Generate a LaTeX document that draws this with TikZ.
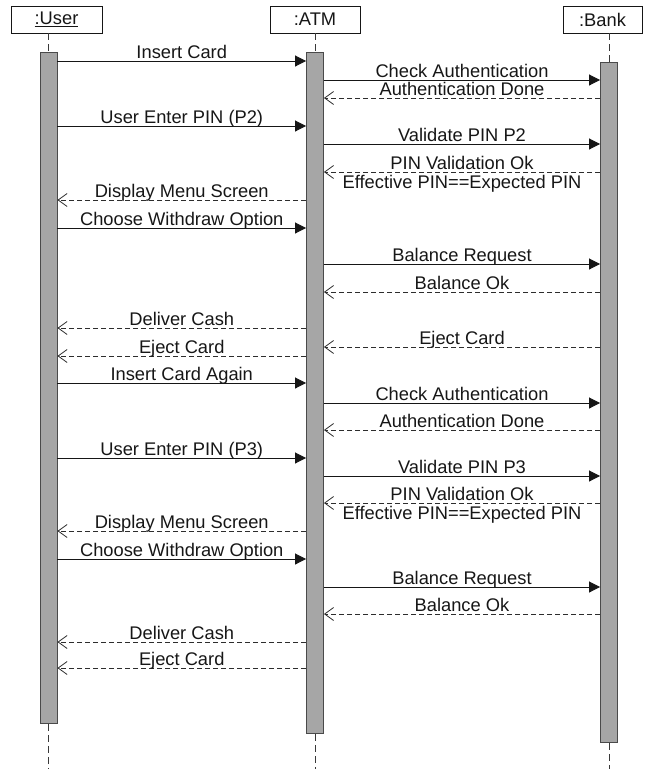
\documentclass[tikz,border=0pt]{standalone}
\usepackage{fontspec}
\setmainfont{Liberation Sans}
\usetikzlibrary{arrows.meta}
\definecolor{ink}{HTML}{161616}
\definecolor{barfill}{HTML}{A6A6A6}
\definecolor{baredge}{HTML}{4A4A4A}
\begin{document}
\begin{tikzpicture}[x=1pt,y=-1pt,
  font=\fontsize{18.3}{22}\selectfont,
  head/.style={draw=ink, line width=0.8pt, fill=white, minimum height=27pt, inner sep=0pt, text=ink},
  bar/.style={draw=baredge, fill=barfill, line width=0.9pt, minimum width=17pt, inner sep=0pt, anchor=north},
  life/.style={draw=ink!85, line width=0.8pt, dash pattern=on 7pt off 4pt},
  call/.style={draw=ink, line width=0.9pt, -{Triangle[length=11pt,width=11pt]}},
  reply/.style={draw=ink!90, line width=0.8pt, dash pattern=on 5pt off 3pt, -{Straight Barb[length=9pt,width=13pt]}},
  lbl/.style={midway, anchor=base, yshift=3pt, inner sep=0pt, text=ink},
  lblbelow/.style={midway, anchor=base, yshift=-16pt, inner sep=0pt, text=ink}]
\useasboundingbox (0,0) rectangle (647,769);

% participants
\node[head, minimum width=91pt] (user) at (56.5,19.5) {\underline{:User}};
\node[head, minimum width=90pt] (atm)  at (315,19.5)  {:ATM};
\node[head, minimum width=79pt] (bank) at (602.5,19.5) {:Bank};

% activation bars
\node[bar, minimum height=671pt] (ub) at (48.5,52) {};
\node[bar, minimum height=681pt] (ab) at (315,52) {};
\node[bar, minimum height=680pt] (bb) at (609,62) {};

% lifelines
\coordinate (uend) at (48.5,769);
\coordinate (aend) at (315,769);
\coordinate (bend) at (609,769);
\draw[life] (ub.north |- user.south) -- (ub.north);
\draw[life] (ab.north |- atm.south) -- (ab.north);
\draw[life] (bb.north |- bank.south) -- (bb.north);
\draw[life] (ub.south) -- (uend);
\draw[life] (ab.south) -- (aend);
\draw[life] (bb.south) -- (bend);

% first session
\draw[call]  (ub.east |- 0,61)  -- node[lbl]{Insert Card} (ab.west |- 0,61);
\draw[call]  (ab.east |- 0,80)  -- node[lbl]{Check Authentication} (bb.west |- 0,80);
\draw[reply] (bb.west |- 0,98)  -- node[lbl]{Authentication Done} (ab.east |- 0,98);
\draw[call]  (ub.east |- 0,126) -- node[lbl]{User Enter PIN (P2)} (ab.west |- 0,126);
\draw[call]  (ab.east |- 0,144) -- node[lbl]{Validate PIN P2} (bb.west |- 0,144);
\draw[reply] (bb.west |- 0,172) -- node[lbl]{PIN Validation Ok} node[lblbelow]{Effective PIN==Expected PIN} (ab.east |- 0,172);
\draw[reply] (ab.west |- 0,200) -- node[lbl]{Display Menu Screen} (ub.east |- 0,200);
\draw[call]  (ub.east |- 0,228) -- node[lbl]{Choose Withdraw Option} (ab.west |- 0,228);
\draw[call]  (ab.east |- 0,264) -- node[lbl]{Balance Request} (bb.west |- 0,264);
\draw[reply] (bb.west |- 0,292) -- node[lbl]{Balance Ok} (ab.east |- 0,292);
\draw[reply] (ab.west |- 0,328) -- node[lbl]{Deliver Cash} (ub.east |- 0,328);
\draw[reply] (bb.west |- 0,347) -- node[lbl]{Eject Card} (ab.east |- 0,347);
\draw[reply] (ab.west |- 0,356) -- node[lbl]{Eject Card} (ub.east |- 0,356);

% second session
\draw[call]  (ub.east |- 0,383) -- node[lbl]{Insert Card Again} (ab.west |- 0,383);
\draw[call]  (ab.east |- 0,403) -- node[lbl]{Check Authentication} (bb.west |- 0,403);
\draw[reply] (bb.west |- 0,430) -- node[lbl]{Authentication Done} (ab.east |- 0,430);
\draw[call]  (ub.east |- 0,458) -- node[lbl]{User Enter PIN (P3)} (ab.west |- 0,458);
\draw[call]  (ab.east |- 0,476) -- node[lbl]{Validate PIN P3} (bb.west |- 0,476);
\draw[reply] (bb.west |- 0,503) -- node[lbl]{PIN Validation Ok} node[lblbelow]{Effective PIN==Expected PIN} (ab.east |- 0,503);
\draw[reply] (ab.west |- 0,531) -- node[lbl]{Display Menu Screen} (ub.east |- 0,531);
\draw[call]  (ub.east |- 0,559) -- node[lbl]{Choose Withdraw Option} (ab.west |- 0,559);
\draw[call]  (ab.east |- 0,587) -- node[lbl]{Balance Request} (bb.west |- 0,587);
\draw[reply] (bb.west |- 0,614) -- node[lbl]{Balance Ok} (ab.east |- 0,614);
\draw[reply] (ab.west |- 0,642) -- node[lbl]{Deliver Cash} (ub.east |- 0,642);
\draw[reply] (ab.west |- 0,668) -- node[lbl]{Eject Card} (ub.east |- 0,668);
\end{tikzpicture}
\end{document}
